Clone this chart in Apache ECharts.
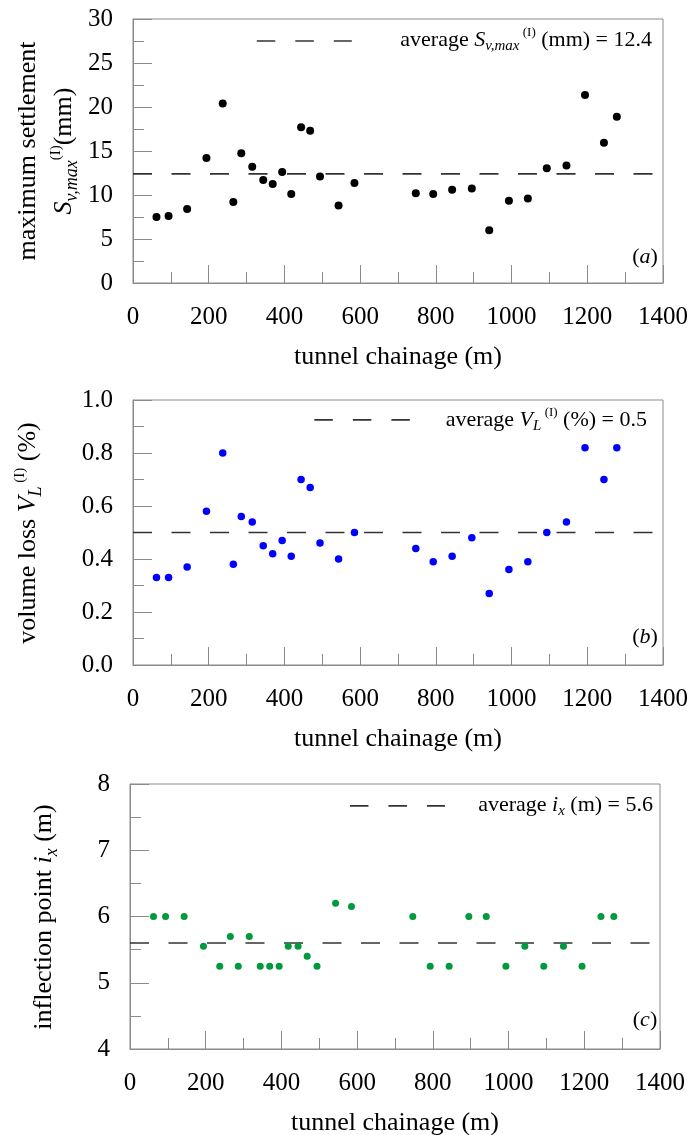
<!DOCTYPE html>
<html>
<head>
<meta charset="utf-8">
<script src="https://cdn.jsdelivr.net/npm/echarts@6/dist/echarts.min.js"></script>
<style>
html,body{margin:0;padding:0;background:#fff;}
#chart{width:692px;height:1135px;}
</style>
</head>
<body>
<div id="chart"></div>
<script>
// ---- data ----
const chainage = [62, 94, 143, 194, 237, 265, 286, 315, 344, 369, 394, 418, 444, 468, 494, 543, 585, 747, 793, 843, 895, 941, 993, 1043, 1093, 1145, 1194, 1244, 1278];
const settlement = [7.5, 7.6, 8.4, 14.2, 20.4, 9.2, 14.75, 13.2, 11.7, 11.25, 12.6, 10.1, 17.7, 17.3, 12.1, 8.8, 11.35, 10.2, 10.1, 10.6, 10.75, 6.0, 9.35, 9.6, 13.05, 13.35, 21.35, 15.95, 18.9];
const volumeLoss = [0.33, 0.33, 0.37, 0.58, 0.80, 0.38, 0.56, 0.54, 0.45, 0.42, 0.47, 0.41, 0.70, 0.67, 0.46, 0.40, 0.50, 0.44, 0.39, 0.41, 0.48, 0.27, 0.36, 0.39, 0.50, 0.54, 0.82, 0.70, 0.82];
const inflection = [6.0, 6.0, 6.0, 5.55, 5.25, 5.7, 5.25, 5.7, 5.25, 5.25, 5.25, 5.55, 5.55, 5.4, 5.25, 6.2, 6.15, 6.0, 5.25, 5.25, 6.0, 6.0, 5.25, 5.55, 5.25, 5.55, 5.25, 6.0, 6.0];
const averages = [12.4, 0.5, 5.6];
const xTicks = [0, 1400, 200];          // min, max, interval
const yRanges = [[0, 30, 5], [0, 1.0, 0.2], [4, 8, 1]];
// legend sample dash segments, in data units: [xStart, xEnd, y]
const legendSamples = [[327, 578, 27.5], [479, 732, 0.925], [581, 832, 7.67]];

const FONT = "'Liberation Serif','Times New Roman',serif";
const AXC = '#8a8a8a';

const chart = echarts.init(document.getElementById('chart'), null, {renderer: 'canvas'});

const grids = [
  {left: 133, top: 19, width: 530, height: 264},
  {left: 133, top: 400, width: 530, height: 265},
  {left: 130, top: 784, width: 530, height: 265}
].map(g => Object.assign({show: true, borderColor: AXC, borderWidth: 1, outerBoundsMode: 'none', containLabel: false}, g));

function xAxis(i) {
  return {
    gridIndex: i, type: 'value', min: xTicks[0], max: xTicks[1], interval: xTicks[2],
    name: 'tunnel chainage (m)', nameLocation: 'middle', nameGap: 61,
    nameTextStyle: {fontFamily: FONT, fontSize: 26, color: '#000'},
    axisLine: {show: true, lineStyle: {color: AXC, width: 1}},
    axisTick: {show: true, inside: true, length: 18, lineStyle: {color: AXC, width: 1}},
    minorTick: {show: true, splitNumber: 2, length: 11, lineStyle: {color: AXC, width: 1}},
    splitLine: {show: false},
    axisLabel: {fontFamily: FONT, fontSize: 25, color: '#000', margin: 22, formatter: v => String(v), showMinLabel: true, showMaxLabel: true, hideOverlap: false}
  };
}
function yAxis(i, fmt) {
  const r = yRanges[i];
  return {
    gridIndex: i, type: 'value', min: r[0], max: r[1], interval: r[2],
    axisLine: {show: true, lineStyle: {color: AXC, width: 1}},
    axisTick: {show: true, inside: true, length: 19, lineStyle: {color: AXC, width: 1}},
    minorTick: {show: true, splitNumber: 2, length: 11, lineStyle: {color: AXC, width: 1}},
    splitLine: {show: false},
    axisLabel: {fontFamily: FONT, fontSize: 25, color: '#000', margin: 20, formatter: fmt, showMinLabel: true, showMaxLabel: true, hideOverlap: false}
  };
}

function avgLine(i) {
  return {
    type: 'line', xAxisIndex: i, yAxisIndex: i, silent: true, symbol: 'none',
    data: [[xTicks[0], averages[i]], [xTicks[1], averages[i]]],
    lineStyle: {color: '#333', width: 1.6, type: [19, 19.5]}, z: 1
  };
}
function legendLine(i) {
  const s = legendSamples[i];
  return {
    type: 'line', xAxisIndex: i, yAxisIndex: i, silent: true, symbol: 'none',
    data: [[s[0], s[2]], [s[1], s[2]]],
    lineStyle: {color: '#333', width: 1.6, type: [18.5, 20]}, z: 1
  };
}
function scatter(i, vals, color, size) {
  return {
    type: 'scatter', xAxisIndex: i, yAxisIndex: i, symbolSize: size,
    data: chainage.map((c, k) => [c, vals[k]]),
    itemStyle: {color: color, opacity: 1}, z: 3
  };
}

const rich = {
  n: {fontFamily: FONT, fontSize: 26, color: '#000', lineHeight: 36},
  i: {fontFamily: FONT, fontSize: 26, fontStyle: 'italic', color: '#000', lineHeight: 36},
  sub: {fontFamily: FONT, fontSize: 18, fontStyle: 'italic', color: '#000', lineHeight: 18, verticalAlign: 'middle', padding: [16, 0, 0, 0]},
  sup: {fontFamily: FONT, fontSize: 15, color: '#000', lineHeight: 15, verticalAlign: 'middle', padding: [0, 0, 16, 0]}
};
const lrich = {
  n: {fontFamily: FONT, fontSize: 22, color: '#000', lineHeight: 30},
  i: {fontFamily: FONT, fontSize: 22, fontStyle: 'italic', color: '#000', lineHeight: 30},
  sub: {fontFamily: FONT, fontSize: 15, fontStyle: 'italic', color: '#000', lineHeight: 15, verticalAlign: 'middle', padding: [13, 0, 0, 0]},
  sup: {fontFamily: FONT, fontSize: 13, color: '#000', lineHeight: 13, verticalAlign: 'middle', padding: [0, 0, 15, 0]}
};

function gtext(x, y, text, r, rot, align) {
  return {
    type: 'text', x: x, y: y, rotation: rot || 0, silent: true,
    style: {text: text, align: align || 'center', verticalAlign: 'middle', rich: r, fill: '#000', fontFamily: FONT}
  };
}

const option = {
  animation: false,
  backgroundColor: '#fff',
  grid: grids,
  xAxis: [xAxis(0), xAxis(1), xAxis(2)],
  yAxis: [yAxis(0, v => String(v)), yAxis(1, v => v.toFixed(1)), yAxis(2, v => String(v))],
  series: [
    avgLine(0), legendLine(0), scatter(0, settlement, '#000', 8),
    avgLine(1), legendLine(1), scatter(1, volumeLoss, '#0000ff', 7.5),
    avgLine(2), legendLine(2), scatter(2, inflection, '#009a3e', 7)
  ],
  graphic: [
    gtext(46, 151, '{n|maximum settlement}\n{i|S}{sub|v,max}{sup|(I)}{n|(mm)}', rich, Math.PI / 2),
    gtext(28, 533, '{n|volume loss }{i|V}{sub|L}{sup| (I)}{n| (%)}', rich, Math.PI / 2),
    gtext(44, 917, '{n|inflection point }{i|i}{sub|x}{n| (m)}', rich, Math.PI / 2),
    gtext(652, 40, '{n|average }{i|S}{sub|v,max}{sup| (I)}{n| (mm) = 12.4}', lrich, 0, 'right'),
    gtext(647, 420, '{n|average }{i|V}{sub|L}{sup| (I)}{n| (%) = 0.5}', lrich, 0, 'right'),
    gtext(653, 805, '{n|average }{i|i}{sub|x}{n| (m) = 5.6}', lrich, 0, 'right'),
    gtext(645, 257, '{n|(}{i|a}{n|)}', lrich, 0, 'center'),
    gtext(645, 637, '{n|(}{i|b}{n|)}', lrich, 0, 'center'),
    gtext(645, 1020, '{n|(}{i|c}{n|)}', lrich, 0, 'center')
  ]
};
chart.setOption(option);
</script>
</body>
</html>
